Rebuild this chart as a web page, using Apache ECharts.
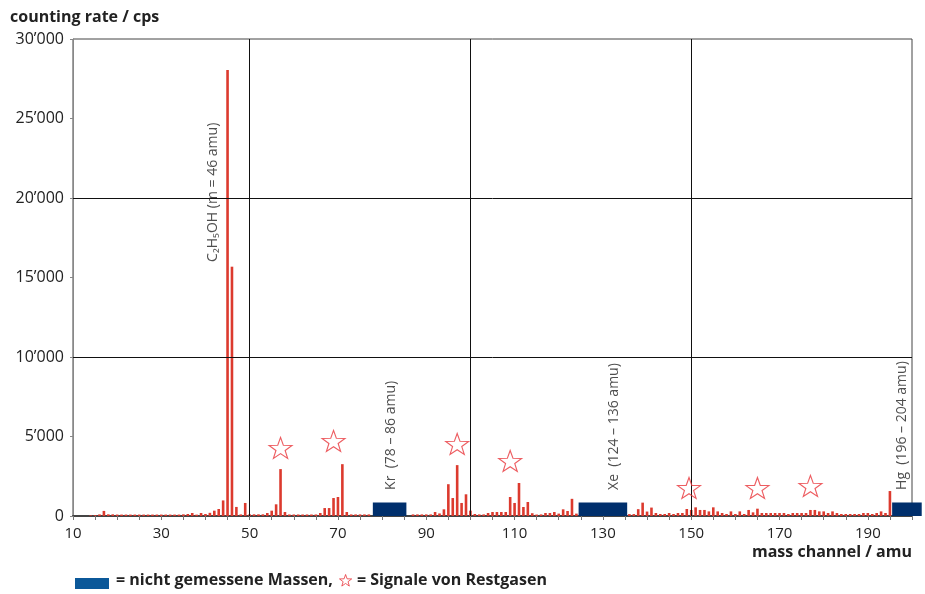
<!DOCTYPE html>
<html>
<head>
<meta charset="utf-8">
<script src="https://cdn.jsdelivr.net/npm/echarts@6/dist/echarts.min.js"></script>
<style>
html,body{margin:0;padding:0;background:#fff;}
#c{width:925px;height:594px;}
</style>
</head>
<body>
<div id="c"></div>
<script>
// ---- data ----
const firstMass = 14;
// counting rate (cps) per mass channel, starting at firstMass; null = not measured
const counts = [
  40, 50, 100, 320, 105, 105, 90, 90, 90, 90,            // 14-23
  90, 90, 90, 90, 90, 90, 90, 90, 90, 90,                // 24-33
  90, 105, 125, 190, 85, 190, 125, 200, 335, 440,        // 34-43
  980, 28050, 15680, 570, 100, 820, 105, 105, 105, 105,  // 44-53
  190, 335, 735, 2950, 250, 95, 95, 95, 95, 95,          // 54-63
  95, 95, 190, 500, 500, 1130, 1195, 3260, 250, 100,     // 64-73
  100, 100, 100, 100, null, null, null, null, null, null,// 74-83
  null, null, null, 100, 100, 100, 100, 100, 250, 160,   // 84-93
  420, 2000, 1130, 3200, 820, 1365, 335, 125, 100, 100,  // 94-103
  190, 250, 250, 250, 250, 1195, 820, 2075, 565, 880,    // 104-113
  175, 90, 100, 190, 190, 250, 150, 420, 315, 1080,      // 114-123
  150, null, null, null, null, null, null, null, null, null, // 124-133
  null, null, 120, 120, 430, 840, 280, 530, 190, 125,    // 134-143
  125, 190, 125, 190, 190, 440, 380, 545, 380, 380,      // 144-153
  290, 545, 290, 190, 125, 290, 125, 290, 125, 380,      // 154-163
  230, 460, 190, 190, 190, 190, 190, 190, 125, 190,      // 164-173
  190, 190, 190, 380, 380, 290, 290, 190, 290, 190,      // 174-183
  125, 125, 125, 125, 125, 190, 190, 125, 190, 290,      // 184-193
  190, 1570                                              // 194-195
];
const masses = counts.map((_, i) => firstMass + i);

// residual gas signals (stars)
const starMass  = [57, 69, 97, 109, 149.5, 165, 177];
const starLevel = [4280, 4720, 4530, 3460, 1760, 1760, 1890];

// masses not measured (blocks)
const blockStart  = [77.9, 124.5, 195.5];
const blockEnd    = [85.5, 135.5, 202.2];
const blockHeight = [850, 850, 850];

// rotated annotations
const noteText  = ['C\u2082H\u2085OH (m = 46 amu)', 'Kr  (78 \u2013 86 amu)', 'Xe  (124 \u2013 136 amu)', 'Hg  (196 \u2013 204 amu)'];
const noteMass  = [41.7, 82.0, 132.5, 197.8];
const noteLevel = [15980, 1640, 1640, 1640];

const xTickLabels = [10, 30, 50, 70, 90, 110, 130, 150, 170, 190];
const yTickLabels = [0, 5000, 10000, 15000, 20000, 25000, 30000];
const vGrid = [50, 100, 150];
const hGrid = [10000, 20000];

// ---- chart ----
const FONT = '"Open Sans", "Noto Sans", sans-serif';
const chart = echarts.init(document.getElementById('c'), null, {renderer: 'canvas'});
const fmtY = v => {
  const s = String(v);
  return s.length > 3 ? s.slice(0, s.length - 3) + '\u2019' + s.slice(-3) : s;
};
const starPts = [[0,-10],[2.35,-3.24],[9.51,-3.09],[3.8,1.24],[5.88,8.09],[0,4],[-5.88,8.09],[-3.8,1.24],[-9.51,-3.09],[-2.35,-3.24]];
const starPath = 'path://M' + starPts.map(p => p[0] + ',' + p[1]).join(' L') + ' Z';

const barData = [];
masses.forEach((m, i) => { if (counts[i] !== null) barData.push([m, counts[i]]); });

chart.setOption({
  animation: false,
  textStyle: {fontFamily: FONT},
  title: {
    text: 'counting rate / cps', left: 5, top: 4,
    textStyle: {fontFamily: FONT, fontSize: 16, fontWeight: 'bold', color: '#222'}
  },
  grid: {left: 73, right: 13, top: 39, bottom: 78, show: true, borderColor: '#444', borderWidth: 1},
  xAxis: {
    type: 'value', min: 10, max: 200, interval: 5,
    axisLine: {show: true, onZero: false, lineStyle: {color: '#444', width: 2}},
    axisTick: {show: true, length: 4, lineStyle: {color: '#777'}},
    splitLine: {show: false},
    axisLabel: {
      margin: 10, fontSize: 15, color: '#222', fontFamily: FONT,
      showMaxLabel: true,
      formatter: v => xTickLabels.indexOf(v) >= 0 ? String(v) : ''
    }
  },
  yAxis: {
    type: 'value', min: 0, max: 30000, interval: 5000,
    axisLine: {show: true, lineStyle: {color: '#888', width: 1}},
    axisTick: {show: true, length: 3, lineStyle: {color: '#888'}},
    splitLine: {show: false},
    axisLabel: {
      margin: 9, fontSize: 16, color: '#222', fontFamily: FONT,
      formatter: v => yTickLabels.indexOf(v) >= 0 ? fmtY(v) : ''
    }
  },
  series: [
    {
      type: 'bar', data: barData, barWidth: 2.6,
      itemStyle: {color: '#dc3a2e'},
      markLine: {
        silent: true, symbol: 'none', animation: false,
        label: {show: false},
        lineStyle: {color: '#111', width: 1, type: 'solid'},
        data: vGrid.map(v => ({xAxis: v})).concat(hGrid.map(v => ({yAxis: v})))
      }
    },
    {
      type: 'custom', clip: false, z: 5,
      data: blockStart.map((s, i) => [s, blockEnd[i], blockHeight[i]]),
      renderItem: (params, api) => {
        const a = api.coord([api.value(0), api.value(2)]);
        const b = api.coord([api.value(1), 0]);
        return {type: 'rect', shape: {x: a[0], y: a[1], width: b[0] - a[0], height: b[1] - a[1]},
                style: {fill: '#002f6c'}};
      }
    },
    {
      type: 'scatter', symbol: starPath, symbolSize: [23, 21], z: 6,
      data: starMass.map((m, i) => [m, starLevel[i]]),
      itemStyle: {color: 'rgba(255,255,255,0)', borderColor: '#e8343a', borderWidth: 1.1}
    },
    {
      type: 'scatter', symbolSize: 0, z: 7, silent: true,
      data: noteMass.map((m, i) => [m, noteLevel[i], noteText[i]]),
      label: {
        show: true, position: [0, 0], rotate: 90, align: 'left', verticalAlign: 'middle',
        fontFamily: FONT, fontSize: 14, color: '#222',
        formatter: p => p.data[2]
      }
    }
  ],
  graphic: [
    {type: 'text', right: 13, top: 544,
     style: {text: 'mass channel / amu', font: 'bold 16px ' + FONT, fill: '#222'}},
    {type: 'rect', left: 75, top: 578, shape: {width: 34, height: 11}, style: {fill: '#0b5899'}},
    {type: 'text', left: 116, top: 572,
     style: {text: '= nicht gemessene Massen,', font: 'bold 16px ' + FONT, fill: '#222'}},
    {type: 'polygon', left: 337, top: 572,
     shape: {points: starPts.map(p => [p[0] * 0.64, p[1] * 0.64])},
     style: {fill: 'none', stroke: '#e8343a', lineWidth: 0.8}},
    {type: 'text', left: 357, top: 572,
     style: {text: '= Signale von Restgasen', font: 'bold 16px ' + FONT, fill: '#222'}}
  ]
});
</script>
</body>
</html>
